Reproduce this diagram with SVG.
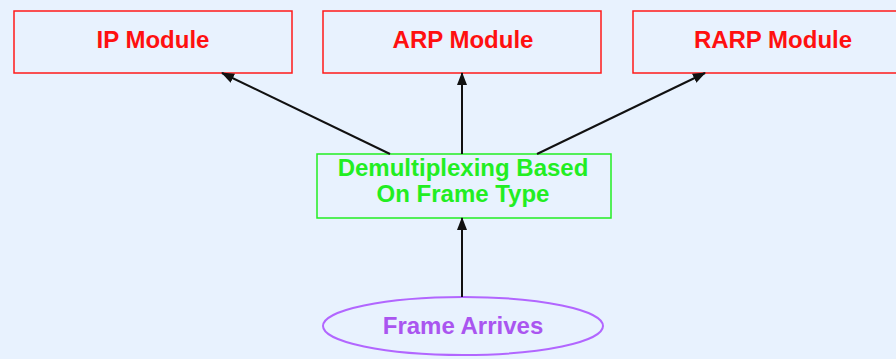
<svg xmlns="http://www.w3.org/2000/svg" width="896" height="359" viewBox="0 0 896 359">
<style>
.box{fill:none;stroke:#ff1a1a;stroke-width:1.5}
.red{fill:#ff1010;font-family:"Liberation Sans",Arial,sans-serif;font-weight:bold;font-size:24px;text-anchor:middle}
.green{fill:#22ee22;font-family:"Liberation Sans",Arial,sans-serif;font-weight:bold;font-size:24px;text-anchor:middle}
.purple{fill:#aa55f0;font-family:"Liberation Sans",Arial,sans-serif;font-weight:bold;font-size:24px;text-anchor:middle}
.edge{stroke:#111;stroke-width:2;fill:none;marker-end:url(#ah)}
</style>
<defs>
<marker id="ah" markerWidth="13" markerHeight="10" refX="12" refY="5" orient="auto" markerUnits="userSpaceOnUse">
<path d="M0,0 L13,5 L0,10 Z" fill="#111"/>
</marker>
</defs>
<rect width="896" height="359" fill="#e8f2fe"/>
<g id="ip"><rect class="box" x="14" y="11" width="278" height="62"/><text class="red" x="153" y="48">IP Module</text></g>
<g id="arp"><rect class="box" x="323" y="11" width="278" height="62"/><text class="red" x="463" y="48">ARP Module</text></g>
<g id="rarp"><rect class="box" x="633" y="11" width="278" height="62"/><text class="red" x="773" y="48">RARP Module</text></g>
<g id="demux"><rect x="317" y="154" width="294" height="64" fill="none" stroke="#22ee22" stroke-width="1.5"/><text class="green" x="463" y="176">Demultiplexing Based</text><text class="green" x="463" y="202">On Frame Type</text></g>
<g id="frame"><ellipse cx="463" cy="326" rx="140" ry="29" fill="none" stroke="#b266ff" stroke-width="2"/><text class="purple" x="463" y="334">Frame Arrives</text></g>
<g id="connectors">
<line class="edge" x1="390" y1="154" x2="222" y2="73"/>
<line class="edge" x1="462" y1="154" x2="462" y2="73"/>
<line class="edge" x1="537" y1="154" x2="705" y2="73"/>
<line class="edge" x1="462" y1="297" x2="462" y2="218"/>
</g>
</svg>
